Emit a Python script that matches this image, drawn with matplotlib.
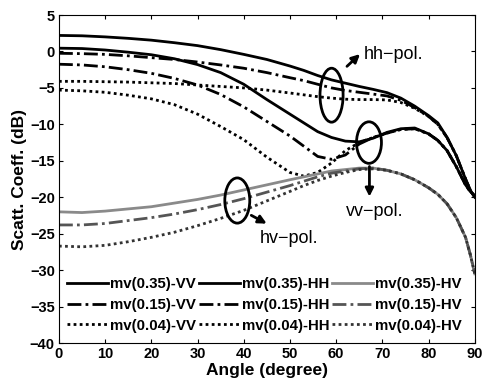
import matplotlib
matplotlib.use("Agg")
import matplotlib.pyplot as plt
from matplotlib.patches import Ellipse

plt.rcParams['font.family'] = ['Liberation Sans', 'DejaVu Sans']

angle = [0, 5, 10, 15, 20, 25, 30, 35, 40, 45, 50, 53, 56, 59, 62, 65, 68, 71, 74, 77, 80, 82, 84, 86, 88, 89, 90]

vv_035 = [0.45, 0.4, 0.2, -0.1, -0.45, -1.0, -1.8, -2.9, -4.5, -6.6, -8.6, -9.8, -11.0, -11.8, -12.3, -12.4, -11.9, -11.1, -10.6, -10.5, -11.3, -12.2, -13.6, -15.8, -18.3, -19.2, -19.8]
vv_015 = [-1.75, -1.85, -2.1, -2.5, -3.0, -3.7, -4.6, -5.9, -7.6, -9.6, -11.6, -13.0, -14.4, -14.8, -14.2, -12.7, -11.8, -11.2, -10.7, -10.6, -11.3, -12.2, -13.6, -15.8, -18.3, -19.2, -19.8]
vv_004 = [-5.3, -5.4, -5.6, -6.0, -6.5, -7.3, -8.6, -10.3, -12.1, -14.5, -16.6, -17.1, -16.6, -15.3, -13.6, -12.5, -11.8, -11.2, -10.7, -10.6, -11.3, -12.2, -13.6, -15.8, -18.3, -19.2, -19.8]

hh_035 = [2.2, 2.15, 2.0, 1.8, 1.55, 1.2, 0.8, 0.25, -0.4, -1.1, -2.0, -2.6, -3.3, -3.9, -4.35, -4.8, -5.2, -5.65, -6.4, -7.5, -8.8, -9.8, -11.8, -14.3, -17.5, -19.0, -20.0]
hh_015 = [-0.25, -0.3, -0.4, -0.6, -0.85, -1.1, -1.45, -1.85, -2.3, -2.9, -3.6, -4.0, -4.5, -5.0, -5.35, -5.6, -5.85, -6.1, -6.7, -7.7, -8.9, -10.0, -11.8, -14.3, -17.5, -19.0, -20.0]
hh_004 = [-4.1, -4.1, -4.15, -4.2, -4.3, -4.4, -4.6, -4.8, -5.0, -5.3, -5.7, -5.95, -6.2, -6.4, -6.55, -6.6, -6.6, -6.65, -7.0, -7.8, -8.9, -10.0, -11.8, -14.3, -17.5, -19.0, -20.0]

hv_035 = [-22.0, -22.1, -21.9, -21.6, -21.3, -20.8, -20.3, -19.7, -19.0, -18.3, -17.6, -17.2, -16.8, -16.4, -16.2, -16.0, -16.0, -16.3, -16.8, -17.6, -18.7, -19.6, -20.9, -22.8, -25.5, -27.8, -30.5]
hv_015 = [-23.8, -23.8, -23.6, -23.2, -22.8, -22.3, -21.7, -21.0, -20.2, -19.3, -18.4, -17.8, -17.2, -16.7, -16.4, -16.1, -16.0, -16.3, -16.8, -17.6, -18.7, -19.6, -20.9, -22.8, -25.5, -27.8, -30.5]
hv_004 = [-26.7, -26.8, -26.6, -26.1, -25.5, -24.8, -23.9, -22.9, -21.8, -20.5, -19.2, -18.4, -17.7, -17.1, -16.6, -16.2, -16.1, -16.3, -16.8, -17.6, -18.7, -19.6, -20.9, -22.8, -25.5, -27.8, -30.5]

labels_vv = ["mv(0.35)-VV", "mv(0.15)-VV", "mv(0.04)-VV"]
labels_hh = ["mv(0.35)-HH", "mv(0.15)-HH", "mv(0.04)-HH"]
labels_hv = ["mv(0.35)-HV", "mv(0.15)-HV", "mv(0.04)-HV"]

fig = plt.figure(figsize=(4.83, 3.85), dpi=100)
ax = fig.add_axes([0.122, 0.109, 0.861, 0.852])

styles = ['-', (0, (5, 1.5, 1, 1.5)), (0, (1, 1.2))]
black = 'black'

for ys, lab, ls in zip([vv_035, vv_015, vv_004], labels_vv, styles):
    ax.plot(angle, ys, color=black, lw=2.0, ls=ls, label=lab)
for ys, lab, ls in zip([hh_035, hh_015, hh_004], labels_hh, styles):
    ax.plot(angle, ys, color=black, lw=2.0, ls=ls, label=lab)
hv_colors = ['#8a8a8a', '#555555', '#333333']
for ys, lab, ls, c in zip([hv_035, hv_015, hv_004], labels_hv, styles, hv_colors):
    ax.plot(angle, ys, color=c, lw=2.0, ls=ls, label=lab)

ax.set_xlim(0, 90)
ax.set_ylim(-40, 5)
ax.set_xticks(range(0, 91, 10))
ax.set_yticks(range(-40, 6, 5))
ax.tick_params(direction='in', top=True, right=True, length=3, labelsize=10.5, pad=3)
for t in ax.get_xticklabels() + ax.get_yticklabels():
    t.set_fontweight('bold')
ax.set_xlabel("Angle (degree)", fontsize=12.5, fontweight='bold', labelpad=1)
ax.set_ylabel("Scatt. Coeff. (dB)", fontsize=12.5, fontweight='bold', labelpad=2)

leg = ax.legend(ncol=3, loc='lower left', bbox_to_anchor=(-0.005, 0.0), frameon=False,
                prop={'weight': 'bold', 'size': 10.8}, handlelength=2.7, handletextpad=0.15,
                columnspacing=0.2, labelspacing=0.45, borderaxespad=0.3)

# annotations
for (cx, cy, w, h) in [(59, -6.0, 5.0, 7.4), (67.1, -12.5, 5.4, 5.7), (38.6, -20.45, 5.4, 6.2)]:
    ax.add_patch(Ellipse((cx, cy), w, h, fill=False, ec='black', lw=2.0, zorder=5))

ax.annotate("", xy=(65.6, -0.1), xytext=(61.9, -2.3),
            arrowprops=dict(arrowstyle='-|>', color='black', lw=2, mutation_scale=12))
ax.text(66.0, -0.4, "hh\u2212pol.", fontsize=13, va='center', ha='left')

ax.annotate("", xy=(67.2, -20.3), xytext=(67.2, -15.4),
            arrowprops=dict(arrowstyle='-|>', color='black', lw=2, mutation_scale=12))
ax.text(68.4, -22.0, "vv\u2212pol.", fontsize=13, va='center', ha='center')

ax.annotate("", xy=(45.5, -23.8), xytext=(41.1, -22.3),
            arrowprops=dict(arrowstyle='-|>', color='black', lw=2, mutation_scale=12))
ax.text(43.5, -25.7, "hv\u2212pol.", fontsize=13, va='center', ha='left')

fig.savefig("out.png", dpi=100)
